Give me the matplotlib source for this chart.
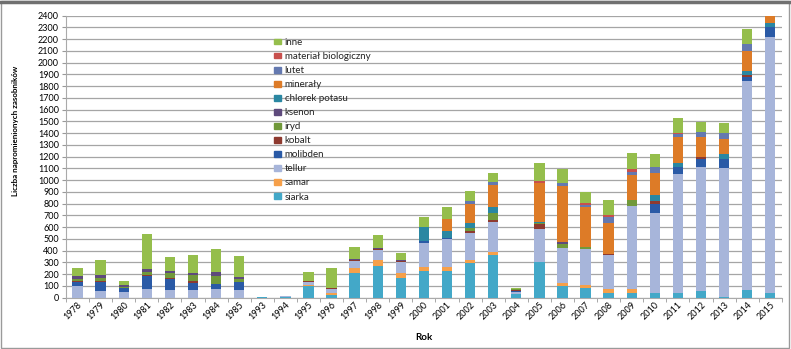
import numpy as np
import matplotlib
matplotlib.use('Agg')
import matplotlib.pyplot as plt
from matplotlib.patches import Rectangle
from matplotlib.lines import Line2D

plt.rcParams['font.family'] = ['Lato', 'DejaVu Sans']

years = ['1978', '1979', '1980', '1981', '1982', '1983', '1984', '1985', '1993', '1994',
         '1995', '1996', '1997', '1998', '1999', '2000', '2001', '2002', '2003', '2004',
         '2005', '2006', '2007', '2008', '2009', '2010', '2011', '2012', '2013', '2014', '2015']

# stacked from bottom to top
siarka = [0, 0, 0, 0, 0, 0, 0, 0, 4, 8,
          100, 20, 212, 272, 170, 224, 227, 292, 363, 35,
          303, 99, 85, 40, 37, 37, 37, 60, 8, 65, 43]
samar = [0, 0, 0, 0, 0, 0, 0, 0, 0, 0,
         5, 20, 38, 48, 37, 34, 37, 28, 29, 0,
         5, 23, 23, 30, 34, 0, 0, 0, 0, 0, 0]
tellur = [100, 60, 45, 75, 62, 65, 70, 68, 4, 5,
          25, 30, 65, 86, 99, 210, 235, 228, 255, 10,
          277, 304, 303, 293, 712, 681, 1015, 1049, 1098, 1782, 2173]
molibden = [35, 75, 40, 110, 98, 57, 45, 62, 0, 0,
            0, 0, 0, 0, 0, 12, 12, 0, 0, 10,
            0, 0, 0, 0, 0, 76, 63, 68, 74, 34, 85]
kobalt = [5, 5, 0, 5, 5, 20, 5, 5, 0, 0,
          8, 10, 5, 5, 5, 0, 0, 19, 14, 10,
          38, 0, 0, 12, 0, 29, 0, 17, 0, 14, 0]
iryd = [20, 30, 10, 30, 45, 50, 65, 20, 0, 5,
        0, 0, 0, 0, 0, 0, 0, 23, 62, 5,
        15, 28, 23, 0, 48, 0, 0, 0, 0, 0, 0]
ksenon = [25, 25, 15, 25, 20, 20, 30, 25, 0, 0,
          5, 5, 8, 9, 9, 0, 0, 0, 0, 0,
          0, 18, 0, 0, 0, 0, 0, 0, 0, 0, 0]
chlorek_potasu = [0, 0, 0, 0, 0, 0, 0, 0, 0, 0,
                  0, 0, 0, 0, 0, 124, 56, 48, 51, 0,
                  10, 0, 0, 0, 0, 51, 28, 0, 40, 37, 34]
mineraly = [0, 0, 0, 0, 0, 0, 0, 0, 0, 0,
            0, 0, 0, 0, 0, 0, 105, 156, 185, 0,
            325, 476, 335, 263, 213, 190, 222, 176, 127, 170, 80]
lutet = [0, 0, 0, 0, 0, 0, 0, 0, 0, 0,
         0, 0, 0, 0, 0, 0, 0, 31, 28, 0,
         0, 25, 20, 50, 28, 51, 28, 43, 57, 57, 0]
material_biol = [0, 0, 0, 0, 0, 0, 0, 0, 0, 0,
                 0, 0, 0, 0, 0, 0, 0, 0, 0, 0,
                 20, 0, 20, 15, 20, 0, 11, 0, 0, 0, 0]
inne = [65, 125, 35, 295, 120, 150, 200, 175, 0, 0,
        72, 165, 100, 113, 57, 80, 100, 85, 77, 10,
        150, 122, 90, 128, 142, 108, 122, 79, 85, 125, 0]

series = [
    ('siarka', siarka, '#43A8C8'),
    ('samar', samar, '#F6A04A'),
    ('tellur', tellur, '#A7B5DA'),
    ('molibden', molibden, '#2A5AA6'),
    ('kobalt', kobalt, '#8E3A2F'),
    ('iryd', iryd, '#71993A'),
    ('ksenon', ksenon, '#5E4A7C'),
    ('chlorek potasu', chlorek_potasu, '#2A87A2'),
    ('minerały', mineraly, '#DD7B27'),
    ('lutet', lutet, '#6479B0'),
    ('materiał biologiczny', material_biol, '#C8504D'),
    ('inne', inne, '#95BE4C'),
]

fig = plt.figure(figsize=(7.91, 3.49), dpi=100)
ax = fig.add_axes([0.0834, 0.147, 0.905, 0.808])

x = np.arange(len(years))
bottom = np.zeros(len(years))
handles = []
for name, vals, col in series:
    vals = np.array(vals, dtype=float)
    ax.bar(x, vals, width=0.45, bottom=bottom, color=col, zorder=3)
    bottom += vals
    handles.append(Rectangle((0, 0), 1, 1, color=col, label=name))

ax.set_ylim(0, 2400)
ax.set_xlim(-0.48, 30.5)
ax.set_yticks(np.arange(0, 2401, 100))
ax.tick_params(axis='y', labelsize=6.5, length=3, color='#999999', pad=2)
ax.set_xticks(x)
ax.set_xticklabels(years, rotation=45, fontsize=6.5)
ax.set_xticks(np.arange(-0.5, 31, 1), minor=True)
ax.tick_params(axis='x', which='major', length=0, pad=2)
ax.tick_params(axis='x', which='minor', length=3, color='#999999')
for lab in ax.get_xticklabels():
    lab.set_ha('right')
    lab.set_rotation_mode('anchor')

ax.yaxis.grid(True, color='#a5a5a5', linewidth=0.9, zorder=0)
ax.set_axisbelow(True)
for s in ['top', 'right']:
    ax.spines[s].set_visible(False)
ax.spines['left'].set_color('#aaaaaa')
ax.spines['bottom'].set_color('#aaaaaa')

ax.set_xlabel('Rok', fontsize=7, fontweight='bold', labelpad=8)
fig.text(0.019, 0.625, 'Liczba napromienionych zasobników', rotation=90,
         fontsize=5.8, fontweight='bold', ha='center', va='center')

leg = ax.legend(handles=handles[::-1], loc='upper left',
                bbox_to_anchor=(0.285, 0.935), frameon=False, fontsize=7,
                handlelength=0.7, handleheight=0.55, handletextpad=0.4,
                labelspacing=0.52, borderaxespad=0)
for t in leg.get_texts():
    t.set_color('#222222')

fig.patches.append(Rectangle((0.001, 0.002), 0.997, 0.995, transform=fig.transFigure,
                             fill=False, edgecolor='#9a9a9a', linewidth=1))
fig.add_artist(Line2D([0, 1], [0.995, 0.995], transform=fig.transFigure,
                      color='#707070', linewidth=2.5))

fig.savefig('out.png', dpi=100)
